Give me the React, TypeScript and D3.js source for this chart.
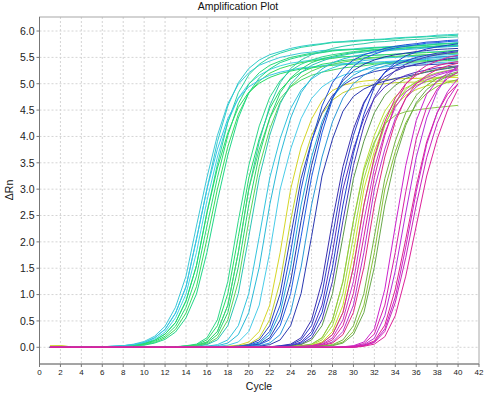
import React from 'react';
import * as d3 from 'd3';

// ΔRn per cycle (cycles 1..40), one array per well
const earlyWells: number[][] = [
	[0,0,0,0, 0,0.01,0.02,0.03,0.06,0.11,0.21,0.4,0.76,1.35,2.3, 3.22,4.02,4.62,4.99,5.21,5.35,5.43,5.5,5.54,5.58,5.6,5.63,5.64,5.65,5.66,5.68,5.69,5.7,5.71,5.72,5.73,5.75,5.76,5.77,5.78],
	[0,0,0,0,0, 0.01,0.02,0.03,0.05,0.09,0.18,0.34,0.65,1.15,2.05,3, 3.9,4.58,5.02,5.29,5.45,5.55,5.61,5.67,5.71,5.74,5.76,5.79,5.8,5.82,5.83,5.84,5.85,5.87,5.88,5.89,5.9,5.92,5.93,5.94],
	[0,0,0,0,0, 0.01,0.01,0.03,0.04,0.08,0.15,0.29,0.56,1.01,1.8,2.78, 3.61,4.28,4.73,5,5.16,5.27,5.34,5.39,5.42,5.45,5.48,5.5,5.51,5.52,5.53,5.54,5.55,5.56,5.58,5.59,5.6,5.61,5.62,5.63],
	[0,0,0,0,0, 0.01,0.01,0.02,0.04,0.07,0.13,0.25,0.47,0.88,1.55,2.55, 3.47,4.27,4.83,5.17,5.37,5.5,5.58,5.64,5.69,5.72,5.75,5.78,5.79,5.8,5.82,5.83,5.84,5.85,5.87,5.88,5.89,5.9,5.91,5.92],
	[0,0,0,0,0, 0.01,0.01,0.02,0.04,0.07,0.13,0.25,0.47,0.88,1.55,2.55, 3.4,4.07,4.55,4.84,5.01,5.12,5.19,5.24,5.28,5.3,5.33,5.35,5.36,5.37,5.38,5.39,5.4,5.41,5.42,5.43,5.44,5.45,5.46,5.47],
	[0,0,0,0,0, 0,0.01,0.02,0.03,0.06,0.11,0.21,0.4,0.76,1.35,2.3, 3.22,4.02,4.62,4.99,5.21,5.35,5.43,5.5,5.54,5.58,5.6,5.63,5.64,5.65,5.66,5.68,5.69,5.7,5.71,5.72,5.73,5.75,5.76,5.77],
	[0,0,0,0,0,0, 0.01,0.02,0.03,0.05,0.09,0.18,0.34,0.65,1.15,2.05,3, 3.81,4.42,4.82,5.05,5.2,5.29,5.35,5.4,5.43,5.46,5.48,5.51,5.52,5.53,5.54,5.55,5.56,5.57,5.58,5.59,5.6,5.62,5.63],
	[0,0,0,0,0,0, 0.01,0.01,0.03,0.04,0.08,0.15,0.29,0.56,1.01,1.8,2.78, 3.65,4.35,4.83,5.11,5.28,5.4,5.47,5.52,5.56,5.59,5.62,5.64,5.65,5.66,5.68,5.69,5.7,5.71,5.72,5.73,5.75,5.76,5.77],
	[0,0,0,0,0, 0.01,0.02,0.03,0.05,0.09,0.18,0.34,0.65,1.15,2.05,3, 3.76,4.34,4.72,4.94,5.07,5.16,5.22,5.26,5.3,5.32,5.34,5.37,5.38,5.39,5.4,5.41,5.42,5.43,5.44,5.45,5.46,5.47,5.48,5.49],
];
const earlyColors = ['#3cc8d8', '#2fcccc', '#40d4e4', '#2ad6a0', '#22dd66', '#28da78', '#36dc5c', '#22d68a', '#38c4e8'];

const greenWells: number[][] = [
	[0,0,0,0,0, 0,0,0,0,0, 0.01,0.01,0.01,0.03,0.06,0.18,0.52,1.25,2.4, 3.45,4.2,4.74,5.06,5.25,5.37,5.45,5.51,5.55,5.58,5.61,5.63,5.65,5.66,5.67,5.68,5.69,5.7,5.72,5.73,5.74],
	[0,0,0,0,0, 0,0,0,0,0, 0, 0.01,0.01,0.02,0.05,0.14,0.41,1.02,2.1, 3.21,3.96,4.53,4.88,5.09,5.22,5.3,5.37,5.4,5.44,5.46,5.49,5.5,5.51,5.52,5.53,5.54,5.55,5.56,5.58,5.59],
	[0,0,0,0,0, 0,0,0,0,0, 0, 0.01,0.01,0.02,0.04,0.1,0.3,0.8,1.8,3, 3.9,4.58,5.02,5.29,5.45,5.55,5.61,5.67,5.71,5.74,5.76,5.79,5.8,5.82,5.83,5.84,5.85,5.87,5.88,5.89],
	[0,0,0,0,0, 0,0,0,0,0, 0, 0.01,0.01,0.02,0.04,0.1,0.3,0.8,1.8,3, 3.76,4.34,4.72,4.94,5.07,5.16,5.22,5.26,5.3,5.32,5.34,5.37,5.38,5.39,5.4,5.41,5.42,5.43,5.44,5.45],
	[0,0,0,0,0, 0,0,0,0,0, 0, 0.01,0.01,0.02,0.03,0.08,0.24,0.66,1.52,2.7, 3.65,4.35,4.83,5.11,5.28,5.4,5.47,5.52,5.56,5.59,5.62,5.64,5.65,5.66,5.68,5.69,5.7,5.71,5.72,5.73],
	[0,0,0,0,0, 0,0,0,0,0, 0, 0.01,0.01,0.01,0.03,0.06,0.18,0.52,1.25,2.4, 3.43,4.14,4.65,4.95,5.13,5.24,5.32,5.37,5.41,5.44,5.47,5.49,5.5,5.51,5.53,5.54,5.55,5.56,5.57,5.58],
	[0,0,0,0,0, 0,0,0,0,0, 0,0, 0.01,0.01,0.02,0.05,0.14,0.41,1.02,2.1, 3.22,4.02,4.62,4.99,5.21,5.35,5.43,5.5,5.54,5.58,5.6,5.63,5.64,5.65,5.66,5.68,5.69,5.7,5.71,5.72],
];
const greenColors = ['#2ed88a', '#22dd66', '#2cc8a8', '#44d96a', '#24d46e', '#5ad45a', '#2bc4b4'];

const cyanWells: number[][] = [
	[0,0,0,0,0, 0,0,0,0,0, 0,0,0, 0.01,0.01,0.02,0.05,0.14,0.41,1.02,2.1, 3.21,3.96,4.53,4.88,5.09,5.22,5.3,5.37,5.4,5.44,5.46,5.49,5.5,5.51,5.52,5.53,5.54,5.55,5.56],
	[0,0,0,0,0, 0,0,0,0,0, 0,0,0, 0.01,0.01,0.02,0.03,0.08,0.24,0.66,1.52,2.7, 3.65,4.35,4.83,5.11,5.28,5.4,5.47,5.52,5.56,5.59,5.62,5.64,5.65,5.66,5.68,5.69,5.7,5.71],
	[0,0,0,0,0, 0,0,0,0,0, 0,0,0,0, 0.01,0.01,0.02,0.04,0.1,0.3,0.8,1.8,3, 3.76,4.34,4.72,4.94,5.07,5.16,5.22,5.26,5.3,5.32,5.34,5.37,5.38,5.39,5.4,5.41,5.42],
];
const cyanColors = ['#33c4dd', '#2ab9d6', '#48cce8'];

const yellowWells: number[][] = [
	[0.03,0.03,0.01, 0,0,0,0,0, 0,0,0,0,0, 0,0, 0.01,0.01,0.02,0.04,0.1,0.3,0.8,1.8,3, 3.8,4.33,4.68,4.87,4.97,5.02,5.05,5.07,5.08,5.09,5.1,5.1,5.11,5.11,5.12,5.12],
	[0.02,0.03,0.01, 0,0,0,0,0, 0,0,0,0,0, 0,0, 0.01,0.01,0.01,0.03,0.06,0.18,0.52,1.25,2.4, 3.4,4.02,4.43,4.69,4.83,4.91,4.96,4.98,5,5.02,5.03,5.03,5.04,5.05,5.05,5.06],
];
const yellowColors = ['#d6d626', '#c4d22e'];

const blueWells: number[][] = [
	[0,0,0,0,0, 0,0,0,0,0, 0,0,0,0,0, 0, 0.01,0.01,0.02,0.05,0.14,0.41,1.02,2.1, 3.2,3.91,4.45,4.78,4.97,5.1,5.17,5.23,5.27,5.3,5.33,5.35,5.36,5.37,5.38,5.39],
	[0,0,0,0,0, 0,0,0,0,0, 0,0,0,0,0, 0, 0.01,0.01,0.02,0.04,0.1,0.3,0.8,1.8,3, 3.9,4.58,5.02,5.29,5.45,5.55,5.61,5.67,5.71,5.74,5.76,5.79,5.8,5.82,5.83],
	[0,0,0,0,0, 0,0,0,0,0, 0,0,0,0,0, 0, 0.01,0.01,0.02,0.03,0.08,0.24,0.66,1.52,2.7, 3.61,4.28,4.73,5,5.16,5.27,5.34,5.39,5.42,5.45,5.48,5.5,5.51,5.52,5.53],
	[0,0,0,0,0, 0,0,0,0,0, 0,0,0,0,0, 0, 0.01,0.01,0.01,0.03,0.06,0.18,0.52,1.25,2.4, 3.45,4.2,4.74,5.06,5.25,5.37,5.45,5.51,5.55,5.58,5.61,5.63,5.65,5.66,5.67],
	[0,0,0,0,0, 0,0,0,0,0, 0,0,0,0,0, 0,0, 0.01,0.01,0.02,0.05,0.14,0.41,1.02,2.1, 3.23,4.07,4.71,5.1,5.33,5.48,5.56,5.63,5.68,5.71,5.74,5.77,5.78,5.8,5.81],
	[0,0,0,0,0, 0,0,0,0,0, 0,0,0,0,0, 0,0, 0.01,0.01,0.02,0.03,0.08,0.24,0.66,1.52,2.7, 3.61,4.28,4.73,5,5.16,5.27,5.34,5.39,5.42,5.45,5.48,5.5,5.51,5.52],
	[0,0,0,0,0, 0,0,0,0,0, 0,0,0,0,0, 0,0,0, 0.01,0.01,0.02,0.05,0.14,0.41,1.02,2.1, 3.25,3.95,4.48,4.76,4.9,4.99,5.05,5.1,5.14,5.18,5.22,5.26,5.29,5.32],
];
const blueColors = ['#2a3fb8', '#1e4fd8', '#22a8dc', '#2436a8', '#1f5ee6', '#2a9ad8', '#2a38b0'];

const indigoWells: number[][] = [
	[0,0,0,0,0, 0,0,0,0,0, 0,0,0,0,0, 0,0,0,0, 0.01,0.01,0.01,0.03,0.06,0.18,0.52,1.25,2.4, 3.43,4.14,4.65,4.95,5.13,5.24,5.32,5.37,5.41,5.44,5.47,5.49],
	[0,0,0,0,0, 0,0,0,0,0, 0,0,0,0,0, 0,0,0,0,0, 0.01,0.01,0.02,0.05,0.14,0.41,1.02,2.1, 3.22,4.02,4.62,4.99,5.21,5.35,5.43,5.5,5.54,5.58,5.6,5.63],
	[0,0,0,0,0, 0,0,0,0,0, 0,0,0,0,0, 0,0,0,0,0, 0.01,0.01,0.02,0.04,0.1,0.3,0.8,1.8,3, 3.76,4.34,4.72,4.94,5.07,5.16,5.22,5.26,5.3,5.32,5.34],
	[0,0,0,0,0, 0,0,0,0,0, 0,0,0,0,0, 0,0,0,0,0, 0.01,0.01,0.02,0.03,0.08,0.24,0.66,1.52,2.7, 3.68,4.42,4.93,5.22,5.4,5.53,5.6,5.66,5.7,5.73,5.76],
	[0,0,0,0,0, 0,0,0,0,0, 0,0,0,0,0, 0,0,0,0,0, 0.01,0.01,0.01,0.03,0.06,0.18,0.52,1.25,2.4, 3.45,4.2,4.74,5.06,5.25,5.37,5.45,5.51,5.55,5.58,5.61],
	[0,0,0,0,0, 0,0,0,0,0, 0,0,0,0,0, 0,0,0,0,0, 0, 0.01,0.01,0.02,0.05,0.14,0.41,1.02,2.1, 3.2,3.91,4.45,4.78,4.97,5.1,5.17,5.23,5.27,5.3,5.33],
];
const indigoColors = ['#3a2fb0', '#2c3dc8', '#5533c0', '#2040d0', '#4838b8', '#5c9a4a'];

const limeWells: number[][] = [
	[0,0,0,0,0, 0,0,0,0,0, 0,0,0,0,0, 0,0,0,0,0, 0, 0.01,0.01,0.01,0.03,0.06,0.18,0.52,1.25,2.4, 3.4,4.02,4.48,4.76,4.92,5.02,5.08,5.12,5.14,5.16],
	[0,0,0,0,0, 0,0,0,0,0, 0,0,0,0,0, 0,0,0,0,0, 0,0, 0.01,0.01,0.02,0.05,0.14,0.41,1.02,2.1, 3.19,3.86,4.36,4.67,4.85,4.97,5.04,5.1,5.13,5.16],
	[0,0,0,0,0, 0,0,0,0,0, 0,0,0,0,0, 0,0,0,0,0, 0,0, 0.01,0.01,0.02,0.04,0.1,0.3,0.8,1.8,3, 3.72,4.24,4.58,4.78,4.89,4.96,5,5.02,5.04],
	[0,0,0,0,0, 0,0,0,0,0, 0,0,0,0,0, 0,0,0,0,0, 0,0, 0.01,0.01,0.02,0.03,0.08,0.24,0.66,1.52,2.7, 3.58,4.21,4.64,4.89,5.04,5.14,5.21,5.25,5.29],
	[0,0,0,0,0, 0,0,0,0,0, 0,0,0,0,0, 0,0,0,0,0, 0, 0.01,0.01,0.01,0.03,0.06,0.18,0.52,1.25,2.4, 3.35,3.9,4.24,4.4,4.47,4.5,4.53,4.55,4.57,4.59],
];
const limeColors = ['#b8e030', '#a4dc3a', '#cbe02a', '#98d840', '#8cc84a'];

const pinkWells: number[][] = [
	[0,0,0,0,0, 0,0,0,0,0, 0,0,0,0,0, 0,0,0,0,0, 0,0, 0.01,0.01,0.02,0.03,0.08,0.24,0.66,1.52,2.7, 3.61,4.28,4.73,5,5.16,5.27,5.34,5.39,5.42],
	[0,0,0,0,0, 0,0,0,0,0, 0,0,0,0,0, 0,0,0,0,0, 0,0, 0.01,0.01,0.01,0.03,0.06,0.18,0.52,1.25,2.4, 3.4,4.07,4.55,4.84,5.01,5.12,5.19,5.24,5.28],
	[0,0,0,0,0, 0,0,0,0,0, 0,0,0,0,0, 0,0,0,0,0, 0,0,0, 0.01,0.01,0.02,0.05,0.14,0.41,1.02,2.1, 3.22,4.02,4.62,4.99,5.21,5.35,5.43,5.5,5.54],
	[0,0,0,0,0, 0,0,0,0,0, 0,0,0,0,0, 0,0,0,0,0, 0,0,0, 0.01,0.01,0.02,0.04,0.1,0.3,0.8,1.8,3, 3.76,4.34,4.72,4.94,5.07,5.16,5.22,5.26],
	[0,0,0,0,0, 0,0,0,0,0, 0,0,0,0,0, 0,0,0,0,0, 0,0,0, 0.01,0.01,0.02,0.03,0.08,0.24,0.66,1.52,2.7, 3.61,4.28,4.73,5,5.16,5.27,5.34,5.39],
];
const pinkColors = ['#e0208c', '#cc33cc', '#d8249a', '#b933d0', '#e02c7c'];

const oliveWells: number[][] = [
	[0,0,0,0,0, 0,0,0,0,0, 0,0,0,0,0, 0,0,0,0,0, 0,0,0,0, 0.01,0.01,0.02,0.05,0.14,0.41,1.02,2.1, 3.2,3.91,4.45,4.78,4.97,5.1,5.17,5.23],
	[0,0,0,0,0, 0,0,0,0,0, 0,0,0,0,0, 0,0,0,0,0, 0,0,0,0, 0.01,0.01,0.02,0.04,0.1,0.3,0.8,1.8,3, 3.71,4.26,4.61,4.82,4.95,5.03,5.08],
	[0,0,0,0,0, 0,0,0,0,0, 0,0,0,0,0, 0,0,0,0,0, 0,0,0,0, 0.01,0.01,0.02,0.03,0.08,0.24,0.66,1.52,2.7, 3.58,4.21,4.64,4.89,5.04,5.14,5.21],
];
const oliveColors = ['#74b443', '#88c238', '#6aa84c'];

// late magenta wells rise more slowly and are still climbing at cycle 40
const magentaWells: number[][] = [
	[0,0,0,0,0, 0,0,0,0,0, 0,0,0,0,0, 0,0,0,0,0, 0,0,0,0,0, 0,0,0, 0.01,0.03,0.1,0.35,1.1,2.3,3.45,4.3,4.8,5.05,5.2,5.32],
	[0,0,0,0,0, 0,0,0,0,0, 0,0,0,0,0, 0,0,0,0,0, 0,0,0,0,0, 0,0,0, 0.01,0.02,0.07,0.25,0.8,1.8,2.95,3.95,4.55,4.9,5.1,5.22],
	[0,0,0,0,0, 0,0,0,0,0, 0,0,0,0,0, 0,0,0,0,0, 0,0,0,0,0, 0,0,0,0, 0.02,0.05,0.17,0.6,1.45,2.55,3.6,4.35,4.85,5.15,5.35],
	[0,0,0,0,0, 0,0,0,0,0, 0,0,0,0,0, 0,0,0,0,0, 0,0,0,0,0, 0,0,0,0, 0.01,0.04,0.12,0.42,1.1,2.05,3.05,3.9,4.45,4.8,5],
	[0,0,0,0,0, 0,0,0,0,0, 0,0,0,0,0, 0,0,0,0,0, 0,0,0,0,0, 0,0,0,0,0, 0.03,0.1,0.35,0.95,1.9,2.95,3.85,4.45,4.85,5.1],
	[0,0,0,0,0, 0,0,0,0,0, 0,0,0,0,0, 0,0,0,0,0, 0,0,0,0,0, 0,0,0,0,0, 0.03,0.09,0.3,0.85,1.7,2.7,3.6,4.25,4.7,5],
	[0,0,0,0,0, 0,0,0,0,0, 0,0,0,0,0, 0,0,0,0,0, 0,0,0,0,0, 0,0,0,0,0, 0.02,0.06,0.2,0.6,1.35,2.3,3.25,3.95,4.5,4.9],
];
const magentaColors = ['#cc22cc', '#d81ea8', '#b82ed6', '#e02090', '#c628c8', '#cc22bb', '#dd2299'];

const cycles = d3.range(1, 41);
const xTicks = d3.range(0, 43, 2);
const yTicks = d3.range(0, 13).map((i) => i * 0.5);

const W = 486;
const H = 396;
const plot = { left: 39.5, right: 479, top: 17, bottom: 364 };
const font = 'Liberation Sans, Arial, sans-serif';

const App: React.FC = () => {
	const x = d3.scaleLinear().domain([0, 42]).range([plot.left, plot.right]);
	const y = d3.scaleLinear().domain([-0.317, 6.266]).range([plot.bottom, plot.top]);

	const line = d3
		.line<number>()
		.x((_, i) => x(cycles[i]))
		.y((v) => y(v));

	const groups: [number[][], string[]][] = [
		[earlyWells, earlyColors],
		[greenWells, greenColors],
		[cyanWells, cyanColors],
		[yellowWells, yellowColors],
		[blueWells, blueColors],
		[indigoWells, indigoColors],
		[limeWells, limeColors],
		[pinkWells, pinkColors],
		[oliveWells, oliveColors],
		[magentaWells, magentaColors],
	];

	return (
		<div style={{ position: 'absolute', left: 0, top: 0 }}>
			<svg width={W} height={H} style={{ display: 'block', background: '#fff' }}>
				<text x={238} y={10} textAnchor="middle" fontFamily={font} fontSize={10.5} fill="#111">
					Amplification Plot
				</text>

				{/* grid */}
				<g stroke="#d4d4d4" strokeDasharray="2,2" strokeWidth={1}>
					{xTicks
						.filter((t) => t > 0 && t < 42)
						.map((t) => (
							<line key={'gx' + t} x1={x(t)} x2={x(t)} y1={plot.top} y2={plot.bottom} />
						))}
					{yTicks.map((t) => (
						<line key={'gy' + t} x1={plot.left} x2={plot.right} y1={y(t)} y2={y(t)} />
					))}
				</g>

				<rect
					x={plot.left}
					y={plot.top}
					width={plot.right - plot.left}
					height={plot.bottom - plot.top}
					fill="none"
					stroke="#a8a8a8"
				/>

				{/* curves */}
				<g fill="none" strokeWidth={1}>
					{groups.map(([wells, colors], gi) =>
						wells.map((w, i) => <path key={gi + '-' + i} d={line(w) || ''} stroke={colors[i]} />)
					)}
				</g>

				{/* axes */}
				<line x1={plot.left} x2={plot.left} y1={plot.top} y2={plot.bottom} stroke="#777" />
				<line x1={plot.left} x2={plot.right} y1={plot.bottom} y2={plot.bottom} stroke="#777" />
				{yTicks.map((t) => (
					<g key={'yt' + t}>
						<line x1={plot.left - 3} x2={plot.left} y1={y(t)} y2={y(t)} stroke="#777" />
						<text
							x={plot.left - 5}
							y={y(t)}
							dy="0.36em"
							textAnchor="end"
							fontFamily={font}
							fontSize={10.5}
							fill="#222"
						>
							{t.toFixed(1)}
						</text>
					</g>
				))}
				{xTicks.map((t) => (
					<g key={'xt' + t}>
						<line x1={x(t)} x2={x(t)} y1={plot.bottom} y2={plot.bottom + 3} stroke="#777" />
						<text x={x(t)} y={375} textAnchor="middle" fontFamily={font} fontSize={8} fill="#222">
							{t}
						</text>
					</g>
				))}
				<text x={259} y={390} textAnchor="middle" fontFamily={font} fontSize={10.5} fill="#111">
					Cycle
				</text>
				<text
					transform={`translate(13,190) rotate(-90)`}
					textAnchor="middle"
					fontFamily={font}
					fontSize={10.5}
					fill="#111"
				>
					ΔRn
				</text>
			</svg>
		</div>
	);
};

export default App;
